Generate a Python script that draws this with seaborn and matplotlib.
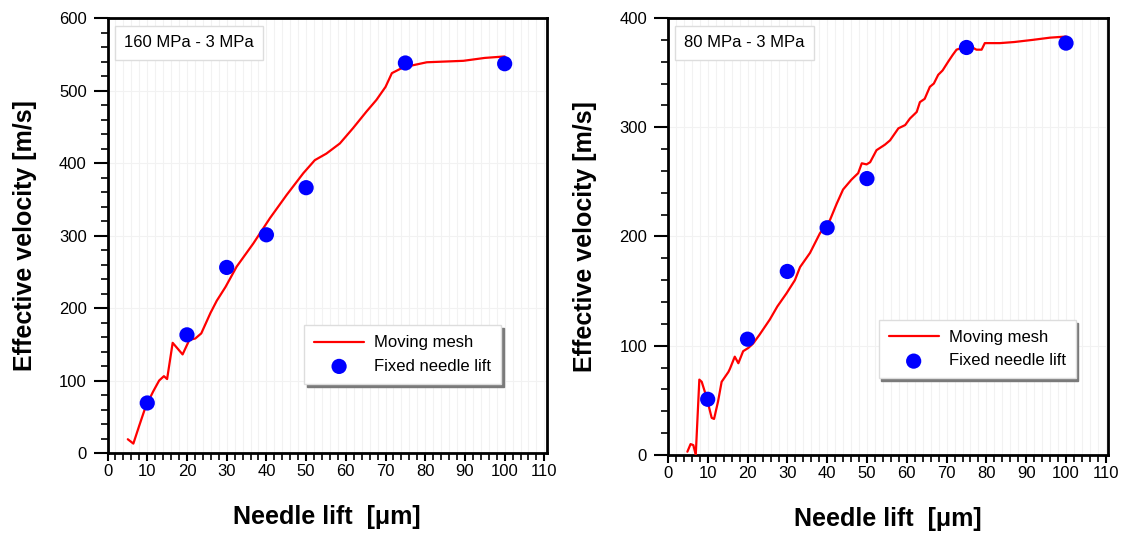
import numpy as np
import pandas as pd
import seaborn as sns
import matplotlib.pyplot as plt
from matplotlib.ticker import MultipleLocator

# 160 MPa - 3 MPa
mesh_160_lift = [5.1, 6.5, 8.0, 9.6, 11.5, 13.0, 14.2, 15.0, 16.4, 17.5, 18.9, 20.6, 22.1,
                 23.6, 25.0, 25.9, 27.5, 29.7, 32.5, 36.7, 40.9, 45.1, 49.3, 52.2, 55.1,
                 58.5, 61.8, 65.2, 67.7, 70.0, 71.6, 74.1, 77.0, 80.4, 85.0, 89.6, 95.0, 100.0]
mesh_160_vel = [19, 13, 38, 64, 85, 100, 106, 102, 152, 145, 136, 156, 158,
                165, 182, 193, 210, 229, 257, 289, 324, 356, 386, 404, 413,
                427, 448, 471, 487, 505, 524, 531, 535, 539, 540, 541, 545, 547]
fixed_160_lift = [10, 20, 30, 40, 50, 75, 100]
fixed_160_vel = [69, 163, 256, 301, 366, 538, 537]

# 80 MPa - 3 MPa
mesh_80_lift = [4.9, 5.7, 6.4, 7.0, 7.9, 8.5, 9.7, 11.0, 11.6, 12.6, 13.5, 15.2, 15.6, 16.8,
                17.7, 18.9, 20.2, 21.4, 23.0, 25.6, 27.5, 29.8, 31.9, 33.2, 35.7, 38.2,
                40.7, 42.4, 44.0, 46.1, 47.8, 48.7, 49.9, 50.8, 52.4, 54.5, 55.8, 57.9,
                59.6, 60.8, 62.5, 63.3, 64.5, 65.8, 66.8, 67.9, 69.0, 70.4, 71.5, 72.5,
                75.0, 76.5, 77.5, 78.8, 79.6, 83.4, 87.0, 91.7, 96.0, 100.0]
mesh_80_vel = [3, 10, 9, 0, 69, 67, 53, 34, 33, 49, 67, 76, 79, 90,
               84, 95, 98, 102, 110, 124, 136, 148, 160, 172, 185, 203,
               215, 230, 243, 252, 258, 267, 266, 268, 279, 284, 288, 299,
               302, 308, 314, 323, 326, 337, 340, 348, 352, 360, 366, 371,
               374, 373, 371, 371, 377, 377, 378, 380, 382, 383]
fixed_80_lift = [10, 20, 30, 40, 50, 75, 100]
fixed_80_vel = [51, 106, 168, 208, 253, 373, 377]

sns.set_style('white')
plt.rcParams['font.family'] = ['Liberation Sans', 'DejaVu Sans']
plt.rcParams.update({'text.color': 'black', 'axes.labelcolor': 'black',
                     'xtick.color': 'black', 'ytick.color': 'black'})

fig = plt.figure(figsize=(11.32, 5.37), dpi=100)
ax1 = fig.add_axes([0.095, 0.1564, 0.388, 0.810])
ax2 = fig.add_axes([0.590, 0.1527, 0.389, 0.8138])

panels = [
    (ax1, mesh_160_lift, mesh_160_vel, fixed_160_lift, fixed_160_vel, 600, '160 MPa - 3 MPa', (0.915, 0.14)),
    (ax2, mesh_80_lift, mesh_80_vel, fixed_80_lift, fixed_80_vel, 400, '80 MPa - 3 MPa', (0.945, 0.156)),
]

for ax, mx, my, fx, fy, ymax, title, leg_anchor in panels:
    mesh = pd.DataFrame({'lift': mx, 'vel': my})
    fixed = pd.DataFrame({'lift': fx, 'vel': fy})
    sns.lineplot(data=mesh, x='lift', y='vel', ax=ax, color='red', lw=1.6,
                 estimator=None, sort=False, label='Moving mesh', zorder=3)
    sns.scatterplot(data=fixed, x='lift', y='vel', ax=ax, color='blue', s=120,
                    edgecolor='none', label='Fixed needle lift', zorder=4)

    ax.set_xlim(0, 110.6)
    ax.set_ylim(0, ymax)
    ax.xaxis.set_major_locator(MultipleLocator(10))
    ax.xaxis.set_minor_locator(MultipleLocator(2))
    ax.yaxis.set_major_locator(MultipleLocator(100))
    ax.yaxis.set_minor_locator(MultipleLocator(20))
    ax.tick_params(axis='x', which='major', direction='out', length=6, width=1.5,
                   labelsize=12, pad=2, bottom=True)
    ax.tick_params(axis='y', which='major', direction='out', length=10, width=1.5,
                   labelsize=12, pad=5, left=True)
    ax.tick_params(which='minor', direction='out', length=5, width=1.2,
                   bottom=True, left=True)
    ax.grid(which='minor', axis='x', color='#f2f2f2', lw=0.8)
    ax.grid(which='major', axis='both', color='#f2f2f2', lw=0.8)
    for sp in ax.spines.values():
        sp.set_visible(True)
        sp.set_color('black')
        sp.set_linewidth(2)

    ax.set_xlabel('Needle lift  [μm]', fontsize=18, fontweight='bold')
    ax.set_ylabel('Effective velocity [m/s]', fontsize=18, fontweight='bold')
    ax.xaxis.set_label_coords(0.5, -0.12)
    ax.yaxis.set_label_coords(-0.16, 0.5)

    ax.text(0.037, 0.943, title, transform=ax.transAxes, fontsize=12, ha='left', va='center',
            bbox=dict(boxstyle='square,pad=0.55', fc='white', ec='#dddddd', lw=1))

    leg = ax.legend(loc='lower right', bbox_to_anchor=leg_anchor, fontsize=12,
                    frameon=True, fancybox=False, shadow={'color': '#7a7a7a', 'alpha': 1},
                    edgecolor='#dddddd', framealpha=1, handlelength=3.0, handletextpad=0.6,
                    borderpad=0.6, labelspacing=0.5)
    leg.get_frame().set_linewidth(1)

fig.savefig('out.png', dpi=100)
